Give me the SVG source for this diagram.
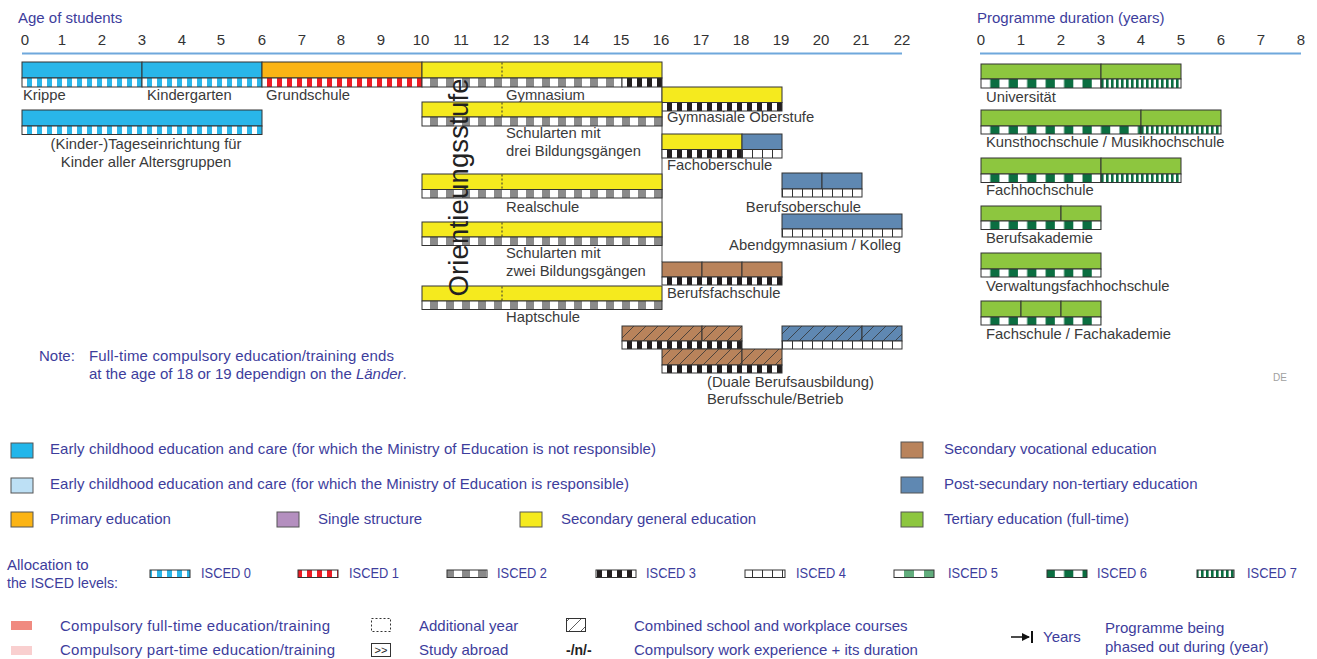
<svg xmlns="http://www.w3.org/2000/svg" width="1317" height="659" viewBox="0 0 1317 659">
<defs>
<style>
text { font-family: "Liberation Sans", Arial, sans-serif; }
.ax { font-size: 15px; fill: #333; text-anchor: middle; }
.ttl { font-size: 15px; fill: #3d3d9c; }
.lbl { font-size: 14.8px; fill: #3a3a3a; }
.leg { font-size: 15px; fill: #3d3d9c; }
.bar { stroke: #333; stroke-width: 1; }
.yel { fill: #f5ea1e; }
.cyan { fill: #29b6e9; }
.org { fill: #fbb415; }
.brn { fill: #b9835b; }
.pbl { fill: #5f88b2; }
.grn { fill: #8dc63f; }
.dash { stroke: #333; stroke-width: 1; stroke-dasharray: 2 2; }
.sq { stroke: #555; stroke-width: 1; }
.axl { stroke: #6fa8dc; stroke-width: 2; }
</style>
<pattern id="i0" patternUnits="userSpaceOnUse" x="2" y="0" width="10" height="20"><rect width="10" height="20" fill="#fff"/><rect x="5" width="5" height="20" fill="#29b6e9"/></pattern>
<pattern id="i1" patternUnits="userSpaceOnUse" x="2" y="0" width="10" height="20"><rect width="10" height="20" fill="#fff"/><rect x="5" width="5" height="20" fill="#ed1c24"/></pattern>
<pattern id="i2" patternUnits="userSpaceOnUse" x="6" y="0" width="16" height="20"><rect width="16" height="20" fill="#fff"/><rect x="8" width="8" height="20" fill="#8a8a8a"/></pattern>
<pattern id="i3" patternUnits="userSpaceOnUse" x="2" y="0" width="10" height="20"><rect width="10" height="20" fill="#fff"/><rect x="5" width="5" height="20" fill="#231f20"/></pattern>
<pattern id="i4" patternUnits="userSpaceOnUse" x="2" y="0" width="10" height="20"><rect width="10" height="20" fill="#fff"/><rect x="0" width="1" height="20" fill="#333"/></pattern>
<pattern id="i5" patternUnits="userSpaceOnUse" x="894" y="0" width="20" height="20"><rect width="20" height="20" fill="#fff"/><rect x="10" width="10" height="20" fill="#62ad7d"/></pattern>
<pattern id="i6" patternUnits="userSpaceOnUse" x="981" y="0" width="18.46" height="20"><rect width="18.46" height="20" fill="#fff"/><rect x="9.23" width="9.23" height="20" fill="#0b6e41"/></pattern>
<pattern id="i7" patternUnits="userSpaceOnUse" x="1101" y="0" width="5" height="20"><rect width="5" height="20" fill="#fff"/><rect x="0" width="2.6" height="20" fill="#0b6e41"/></pattern>
<pattern id="hatch" patternUnits="userSpaceOnUse" x="0" y="0" width="12" height="12"><path d="M-3,3 L3,-3 M0,12 L12,0 M9,15 L15,9" stroke="#333" stroke-width="0.8" fill="none"/></pattern>
<marker id="arr" markerWidth="8" markerHeight="8" refX="7" refY="4" orient="auto" markerUnits="userSpaceOnUse"><path d="M0,0 L8,4 L0,8 Z" fill="#111"/></marker>
</defs>
<rect width="1317" height="659" fill="#fff"/>

<g id="age-axis">
<text class="ttl" x="18" y="23">Age of students</text>
<text class="ax" x="25" y="45">0</text><text class="ax" x="62" y="45">1</text><text class="ax" x="102" y="45">2</text><text class="ax" x="142" y="45">3</text><text class="ax" x="182" y="45">4</text><text class="ax" x="221" y="45">5</text><text class="ax" x="262" y="45">6</text><text class="ax" x="302" y="45">7</text><text class="ax" x="341" y="45">8</text><text class="ax" x="381" y="45">9</text><text class="ax" x="421" y="45">10</text><text class="ax" x="461" y="45">11</text><text class="ax" x="501" y="45">12</text><text class="ax" x="541" y="45">13</text><text class="ax" x="581" y="45">14</text><text class="ax" x="621" y="45">15</text><text class="ax" x="661" y="45">16</text><text class="ax" x="701" y="45">17</text><text class="ax" x="741" y="45">18</text><text class="ax" x="781" y="45">19</text><text class="ax" x="821" y="45">20</text><text class="ax" x="861" y="45">21</text><text class="ax" x="902" y="45">22</text>
<line class="axl" x1="22" y1="53.5" x2="902" y2="53.5"/>
</g>

<g id="duration-axis">
<text class="ttl" x="977" y="23">Programme duration (years)</text>
<text class="ax" x="981" y="45">0</text><text class="ax" x="1021" y="45">1</text><text class="ax" x="1061" y="45">2</text><text class="ax" x="1101" y="45">3</text><text class="ax" x="1141" y="45">4</text><text class="ax" x="1181" y="45">5</text><text class="ax" x="1221" y="45">6</text><text class="ax" x="1261" y="45">7</text><text class="ax" x="1301" y="45">8</text>
<line class="axl" x1="980" y1="53.5" x2="1301" y2="53.5"/>
</g>

<g id="connectors">
<line x1="662" y1="87" x2="662" y2="262" stroke="#8a8a8a" stroke-width="1.5"/>
</g>

<g id="krippe">
<rect class="bar cyan" x="22" y="62" width="120" height="16"/>
<rect class="bar" x="22" y="78" width="120" height="9" fill="url(#i0)"/>
<text class="lbl" x="23" y="100">Krippe</text>
</g>
<g id="kindergarten">
<rect class="bar cyan" x="142" y="62" width="120" height="16"/>
<rect class="bar" x="142" y="78" width="120" height="9" fill="url(#i0)"/>
<text class="lbl" x="147" y="100">Kindergarten</text>
</g>
<g id="grundschule">
<rect class="bar org" x="262" y="62" width="160" height="16"/>
<rect class="bar" x="262" y="78" width="160" height="9" fill="url(#i1)"/>
<text class="lbl" x="266" y="100">Grundschule</text>
</g>
<g id="gymnasium">
<rect class="bar yel" x="422" y="62" width="240" height="16"/>
<line class="dash" x1="502" y1="62.5" x2="502" y2="77.5"/>
<rect class="bar" x="422" y="78" width="200" height="9" fill="url(#i2)"/>
<rect class="bar" x="622" y="78" width="40" height="9" fill="url(#i3)"/>
<text class="lbl" x="506" y="99.5">Gymnasium</text>
</g>
<g id="tageseinrichtung">
<rect class="bar cyan" x="22" y="110" width="240" height="16"/>
<rect class="bar" x="22" y="126" width="240" height="8.5" fill="url(#i0)"/>
<text class="lbl" x="146" y="148.5" text-anchor="middle">(Kinder-)Tageseinrichtung für</text>
<text class="lbl" x="146" y="166.5" text-anchor="middle">Kinder aller Altersgruppen</text>
</g>
<g id="gymnasiale-oberstufe">
<rect class="bar yel" x="662" y="87" width="120" height="15.5"/>
<rect class="bar" x="662" y="102.5" width="120" height="8.5" fill="url(#i3)"/>
<text class="lbl" x="667" y="122">Gymnasiale Oberstufe</text>
</g>
<g id="schularten-drei">
<rect class="bar yel" x="422" y="102" width="240" height="15"/>
<line class="dash" x1="502" y1="102.5" x2="502" y2="116.5"/>
<rect class="bar" x="422" y="117" width="240" height="9" fill="url(#i2)"/>
<text class="lbl" x="506" y="138">Schularten mit</text>
<text class="lbl" x="506" y="156">drei Bildungsgängen</text>
</g>
<g id="fachoberschule">
<rect class="bar yel" x="662" y="134" width="80" height="15.5"/>
<rect class="bar pbl" x="742" y="134" width="40" height="15.5"/>
<rect class="bar" x="662" y="149.5" width="80" height="8.5" fill="url(#i3)"/>
<rect class="bar" x="742" y="149.5" width="40" height="8.5" fill="url(#i4)"/>
<text class="lbl" x="667" y="170">Fachoberschule</text>
</g>
<g id="realschule">
<rect class="bar yel" x="422" y="174" width="240" height="15.5"/>
<line class="dash" x1="502" y1="174.5" x2="502" y2="189"/>
<rect class="bar" x="422" y="189.5" width="240" height="8.5" fill="url(#i2)"/>
<text class="lbl" x="506" y="211.5">Realschule</text>
</g>
<g id="berufsoberschule">
<rect class="bar pbl" x="782" y="173" width="40" height="16"/>
<rect class="bar pbl" x="822" y="173" width="40" height="16"/>
<rect class="bar" x="782" y="189" width="80" height="8" fill="url(#i4)"/>
<text class="lbl" x="861" y="212" text-anchor="end">Berufsoberschule</text>
</g>
<g id="abendgymnasium">
<rect class="bar pbl" x="782" y="214" width="120" height="15"/>
<rect class="bar" x="782" y="229" width="120" height="8" fill="url(#i4)"/>
<text class="lbl" x="901" y="250" text-anchor="end">Abendgymnasium / Kolleg</text>
</g>
<g id="schularten-zwei">
<rect class="bar yel" x="422" y="222" width="240" height="15"/>
<line class="dash" x1="502" y1="222.5" x2="502" y2="236.5"/>
<rect class="bar" x="422" y="237" width="240" height="8.5" fill="url(#i2)"/>
<text class="lbl" x="506" y="258">Schularten mit</text>
<text class="lbl" x="506" y="276">zwei Bildungsgängen</text>
</g>
<g id="berufsfachschule">
<rect class="bar brn" x="662" y="262" width="40" height="15"/>
<rect class="bar brn" x="702" y="262" width="40" height="15"/>
<rect class="bar brn" x="742" y="262" width="40" height="15"/>
<rect class="bar" x="662" y="277" width="120" height="8" fill="url(#i3)"/>
<text class="lbl" x="667" y="298">Berufsfachschule</text>
</g>
<g id="hauptschule">
<rect class="bar yel" x="422" y="286" width="240" height="15"/>
<line class="dash" x1="502" y1="286.5" x2="502" y2="300.5"/>
<rect class="bar" x="422" y="301" width="240" height="8.5" fill="url(#i2)"/>
<text class="lbl" x="506" y="322">Haptschule</text>
</g>
<g id="combined-post-secondary">
<rect class="bar pbl" x="782" y="326" width="80" height="15"/>
<rect class="bar pbl" x="862" y="326" width="40" height="15"/>
<rect x="782" y="326" width="120" height="15" fill="url(#hatch)"/>
<rect class="bar" x="782" y="341" width="120" height="8" fill="url(#i4)"/>
</g>
<g id="duale-berufsausbildung">
<rect class="bar brn" x="622" y="326" width="80" height="15"/>
<rect class="bar brn" x="702" y="326" width="40" height="15"/>
<rect x="622" y="326" width="120" height="15" fill="url(#hatch)"/>
<rect class="bar" x="622" y="341" width="120" height="8" fill="url(#i3)"/>
<rect class="bar brn" x="662" y="349" width="80" height="16"/>
<rect class="bar brn" x="742" y="349" width="40" height="16"/>
<rect x="662" y="349" width="120" height="16" fill="url(#hatch)"/>
<rect class="bar" x="662" y="365" width="120" height="8" fill="url(#i3)"/>
<text class="lbl" x="707" y="386.5">(Duale Berufsausbildung)</text>
<text class="lbl" x="707" y="404">Berufsschule/Betrieb</text>
</g>
<g id="orientierungsstufe">
<text x="0" y="0" transform="translate(468,296.5) rotate(-90)" font-size="27.5" fill="#222" textLength="218">Orientieungsstufe</text>
</g>

<g id="universitaet">
<rect class="bar grn" x="981" y="64" width="120" height="15"/>
<rect class="bar grn" x="1101" y="64" width="80" height="15"/>
<rect class="bar" x="981" y="79" width="120" height="9" fill="url(#i6)"/>
<rect class="bar" x="1101" y="79" width="80" height="9" fill="url(#i7)"/>
<text class="lbl" x="986" y="101.5">Universität</text>
</g>
<g id="kunsthochschule">
<rect class="bar grn" x="981" y="110" width="160" height="16"/>
<rect class="bar grn" x="1141" y="110" width="80" height="16"/>
<rect class="bar" x="981" y="126" width="160" height="8" fill="url(#i6)"/>
<rect class="bar" x="1141" y="126" width="80" height="8" fill="url(#i7)"/>
<text class="lbl" x="986" y="146.5">Kunsthochschule / Musikhochschule</text>
</g>
<g id="fachhochschule">
<rect class="bar grn" x="981" y="158" width="120" height="16"/>
<rect class="bar grn" x="1101" y="158" width="80" height="16"/>
<rect class="bar" x="981" y="174" width="120" height="8.5" fill="url(#i6)"/>
<rect class="bar" x="1101" y="174" width="80" height="8.5" fill="url(#i7)"/>
<text class="lbl" x="986" y="195">Fachhochschule</text>
</g>
<g id="berufsakademie">
<rect class="bar grn" x="981" y="206" width="80" height="15"/>
<rect class="bar grn" x="1061" y="206" width="40" height="15"/>
<rect class="bar" x="981" y="221" width="120" height="8.5" fill="url(#i6)"/>
<text class="lbl" x="986" y="243">Berufsakademie</text>
</g>
<g id="verwaltungsfachhochschule">
<rect class="bar grn" x="981" y="253" width="120" height="16"/>
<rect class="bar" x="981" y="269" width="120" height="8" fill="url(#i6)"/>
<text class="lbl" x="986" y="291">Verwaltungsfachhochschule</text>
</g>
<g id="fachschule">
<rect class="bar grn" x="981" y="301" width="40" height="16"/>
<rect class="bar grn" x="1021" y="301" width="40" height="16"/>
<rect class="bar grn" x="1061" y="301" width="40" height="16"/>
<rect class="bar" x="981" y="317" width="120" height="8" fill="url(#i6)"/>
<text class="lbl" x="986" y="339">Fachschule / Fachakademie</text>
</g>

<g id="note">
<text class="leg" x="39" y="360.5">Note:</text>
<text class="leg" x="89" y="360.5" textLength="305">Full-time compulsory education/training ends</text>
<text class="leg" x="89" y="378.5">at the age of 18 or 19 dependign on the <tspan font-style="italic">Länder</tspan>.</text>
</g>
<text x="1273" y="381" font-size="10" fill="#a0a0a0">DE</text>

<g id="legend-categories">
<rect class="sq" x="11" y="443" width="22" height="15" fill="#22b6ea"/>
<text class="leg" x="50" y="454" textLength="606">Early childhood education and care (for which the Ministry of Education is not responsible)</text>
<rect class="sq" x="11" y="478" width="22" height="15" fill="#bde0f5"/>
<text class="leg" x="50" y="489" textLength="579">Early childhood education and care (for which the Ministry of Education is responsible)</text>
<rect class="sq" x="11" y="512" width="22" height="15" fill="#fbb415"/>
<text class="leg" x="50" y="524">Primary education</text>
<rect class="sq" x="277" y="512" width="22" height="15" fill="#b48fbf"/>
<text class="leg" x="318" y="524">Single structure</text>
<rect class="sq" x="520" y="512" width="22" height="15" fill="#f5ea1e"/>
<text class="leg" x="561" y="524">Secondary general education</text>
<rect class="sq" x="901" y="442" width="22" height="16" fill="#b9835b"/>
<text class="leg" x="944" y="454">Secondary vocational education</text>
<rect class="sq" x="901" y="477" width="22" height="16" fill="#5f88b2"/>
<text class="leg" x="944" y="489">Post-secundary non-tertiary education</text>
<rect class="sq" x="901" y="512" width="22" height="15" fill="#8dc63f"/>
<text class="leg" x="944" y="524">Tertiary education (full-time)</text>
</g>

<g id="legend-isced">
<text class="leg" x="7" y="570">Allocation to</text>
<text class="leg" x="7" y="588" textLength="111" lengthAdjust="spacingAndGlyphs">the ISCED levels:</text>
<rect class="bar" x="150" y="570" width="40" height="7.5" fill="url(#i0)"/>
<text class="leg" x="201" y="578" textLength="50" lengthAdjust="spacingAndGlyphs">ISCED 0</text>
<rect class="bar" x="298" y="570" width="40" height="7.5" fill="url(#i1)"/>
<text class="leg" x="349" y="578" textLength="50" lengthAdjust="spacingAndGlyphs">ISCED 1</text>
<rect class="bar" x="447" y="570" width="40" height="7.5" fill="url(#i2)"/>
<text class="leg" x="497" y="578" textLength="50" lengthAdjust="spacingAndGlyphs">ISCED 2</text>
<rect class="bar" x="596" y="570" width="40" height="7.5" fill="url(#i3)"/>
<text class="leg" x="646" y="578" textLength="50" lengthAdjust="spacingAndGlyphs">ISCED 3</text>
<rect class="bar" x="745" y="570" width="40" height="7.5" fill="url(#i4)"/>
<text class="leg" x="796" y="578" textLength="50" lengthAdjust="spacingAndGlyphs">ISCED 4</text>
<rect class="bar" x="894" y="570" width="40" height="7.5" fill="url(#i5)"/>
<text class="leg" x="948" y="578" textLength="50" lengthAdjust="spacingAndGlyphs">ISCED 5</text>
<rect class="bar" x="1047" y="570" width="40" height="7.5" fill="url(#i6)"/>
<text class="leg" x="1097" y="578" textLength="50" lengthAdjust="spacingAndGlyphs">ISCED 6</text>
<rect class="bar" x="1197" y="570" width="37" height="7.5" fill="url(#i7)"/>
<text class="leg" x="1247" y="578" textLength="50" lengthAdjust="spacingAndGlyphs">ISCED 7</text>
</g>

<g id="legend-other">
<rect x="11" y="621" width="21" height="9" fill="#f08a80"/>
<text class="leg" x="60" y="631" textLength="270">Compulsory full-time education/training</text>
<rect x="11" y="646" width="21" height="9" fill="#f9cfcf"/>
<text class="leg" x="60" y="655" textLength="275">Compulsory part-time education/training</text>
<rect x="371.5" y="618.5" width="19" height="13" fill="none" stroke="#333" stroke-width="1" stroke-dasharray="2 2"/>
<text class="leg" x="419" y="631">Additional year</text>
<rect x="371.5" y="643.5" width="19" height="13" fill="#fff" stroke="#333" stroke-width="1"/>
<text x="381" y="654" font-size="11" fill="#222" text-anchor="middle">&gt;&gt;</text>
<text class="leg" x="419" y="655">Study abroad</text>
<rect x="566.5" y="618.5" width="19" height="13" fill="url(#hatch)" stroke="#333" stroke-width="1"/>
<text class="leg" x="634" y="631">Combined school and workplace courses</text>
<text x="566" y="655" font-size="14" font-weight="bold" fill="#222">-/n/-</text>
<text class="leg" x="634" y="655">Compulsory work experience + its duration</text>
<line x1="1011" y1="637" x2="1029" y2="637" stroke="#111" stroke-width="1.5" marker-end="url(#arr)"/>
<line x1="1032" y1="631" x2="1032" y2="643" stroke="#111" stroke-width="2"/>
<text class="leg" x="1043" y="642">Years</text>
<text class="leg" x="1105" y="633">Programme being</text>
<text class="leg" x="1105" y="652">phased out during (year)</text>
</g>
</svg>
